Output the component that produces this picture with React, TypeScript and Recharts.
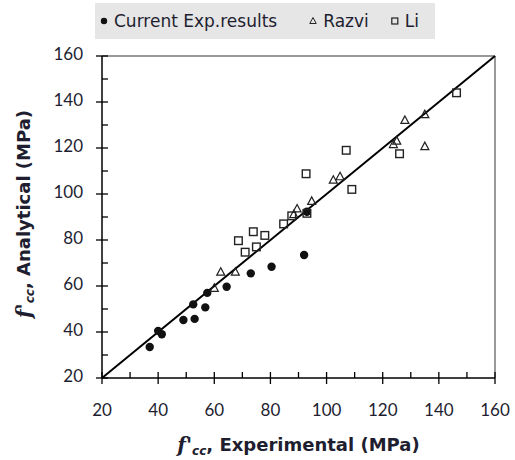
import React from 'react';
import { ScatterChart, Scatter, XAxis, YAxis, ReferenceLine, Legend } from 'recharts';

const currentExp: number[][] = [
  [37, 33.5], [40, 40.5], [41.3, 39], [49, 45.2], [53, 45.7], [52.5, 52],
  [56.8, 50.7], [57.5, 57], [64.4, 59.7], [73, 65.5], [80.4, 68.4], [92, 73.5], [93, 92.3],
];
const razvi: number[][] = [
  [60, 59], [62.3, 66], [67.5, 66], [88.3, 91], [89.5, 93.5], [94.7, 96.8],
  [102.4, 106], [104.8, 107.5], [123.8, 121.5], [125, 123], [127.9, 132], [135, 134.5], [135, 120.6],
];
const li: number[][] = [
  [68.6, 79.7], [73.9, 83.6], [71, 74.7], [75, 77], [78, 82], [84.7, 87], [87.6, 90.5],
  [93, 91.6], [92.7, 108.8], [107, 119], [109, 102], [126, 117.5], [146.3, 144],
];
const axisTicks = [20, 30, 40, 50, 60, 70, 80, 90, 100, 110, 120, 130, 140, 150, 160];
const legendLabels = ['Current Exp.results', 'Razvi', 'Li'];

const toObj = (arr: number[][]) => arr.map(([x, y]) => ({ x, y }));

const FONT = 'Lato, "Open Sans", sans-serif';
const TFONT = '"DejaVu Sans", sans-serif';
const TXT = '#1e1e30';

const XTick = (props: any) => {
  const { x, y, payload } = props;
  const major = payload.value % 20 === 0;
  return (
    <g>
      <line x1={x} x2={x} y1={y - 6} y2={major ? y + 6 : y} stroke="#000" strokeWidth={1.3} />
      {major && (
        <text x={x} y={y + 34} textAnchor="middle" dominantBaseline="middle" fontFamily={FONT} fontSize={17} fill={TXT}>
          {payload.value}
        </text>
      )}
    </g>
  );
};

const YTick = (props: any) => {
  const { x, y, payload } = props;
  const major = payload.value % 20 === 0;
  return (
    <g>
      <line x1={major ? x - 6 : x} x2={x + 6} y1={y} y2={y} stroke="#000" strokeWidth={1.3} />
      {major && (
        <text x={x - 19} y={y} textAnchor="end" dominantBaseline="middle" fontFamily={FONT} fontSize={17} fill={TXT}>
          {payload.value}
        </text>
      )}
    </g>
  );
};

const XTitle = (props: any) => {
  const vb = props.viewBox || {};
  const cx = vb.x + vb.width / 2;
  return (
    <text x={cx} y={446} textAnchor="middle" dominantBaseline="middle" fontFamily={TFONT} fontSize={18} fontWeight="bold" fill={TXT}>
      <tspan fontStyle="italic" fontFamily="'DejaVu Serif', serif" fontSize={20}>f'</tspan>
      <tspan fontStyle="italic" fontSize={12} dy={5}>cc</tspan>
      <tspan dy={-5}>, Experimental (MPa)</tspan>
    </text>
  );
};

const YTitle = () => {
  const cy = 214;
  const cx = 25;
  return (
    <text x={cx} y={cy} transform={`rotate(-90 ${cx} ${cy})`} textAnchor="middle" dominantBaseline="middle" fontFamily={TFONT} fontSize={18} fontWeight="bold" fill={TXT}>
      <tspan fontStyle="italic" fontFamily="'DejaVu Serif', serif" fontSize={20}>f'</tspan>
      <tspan fontStyle="italic" fontSize={12} dy={5}>cc</tspan>
      <tspan dy={-5}>, Analytical (MPa)</tspan>
    </text>
  );
};

const CircleShape = (p: any) => <circle cx={p.cx} cy={p.cy} r={4.2} fill="#111" />;
const TriShape = (p: any) => (
  <polygon
    points={`${p.cx},${p.cy - 4.5} ${p.cx - 4},${p.cy + 3} ${p.cx + 4},${p.cy + 3}`}
    fill="none" stroke="#222" strokeWidth={1.2}
  />
);
const SquareShape = (p: any) => (
  <rect x={p.cx - 3.8} y={p.cy - 3.8} width={7.6} height={7.6} fill="none" stroke="#222" strokeWidth={1.4} />
);

const LegendBox = () => {
  const item = (marker: React.ReactNode, label: string, gap: number) => (
    <div style={{ display: 'flex', alignItems: 'center', marginRight: gap }}>
      <svg width={12} height={12} style={{ marginRight: 4 }}>{marker}</svg>
      <span style={{ fontFamily: TFONT, fontSize: 17, color: TXT }}>{label}</span>
    </div>
  );
  return (
    <div style={{ width: 340, height: 36, background: '#e6e6e6', display: 'flex', alignItems: 'center', paddingLeft: 3, boxSizing: 'border-box' }}>
      {item(<circle cx={6} cy={6} r={3.2} fill="#111" />, legendLabels[0], 30)}
      {item(<polygon points="6,2.5 2.8,8.5 9.2,8.5" fill="none" stroke="#222" strokeWidth={1} />, legendLabels[1], 20)}
      {item(<rect x={2.8} y={3} width={6} height={6} fill="none" stroke="#222" strokeWidth={1.2} />, legendLabels[2], 0)}
    </div>
  );
};

export default function App() {
  return (
    <div style={{ position: 'absolute', left: 0, top: 0, width: 515, height: 460, background: '#fff' }}>
      <ScatterChart width={515} height={460} margin={{ top: 20, right: 20, bottom: 0, left: 0 }}>
        <XAxis
          type="number" dataKey="x" domain={[20, 160]} ticks={axisTicks} interval={0}
          tickSize={0} tickMargin={0} tick={<XTick />} height={82}
          axisLine={{ stroke: '#000', strokeWidth: 1.5 }} tickLine={false}
          label={<XTitle />}
        />
        <YAxis
          type="number" dataKey="y" domain={[20, 160]} ticks={axisTicks} interval={0}
          tickSize={0} tickMargin={0} tick={<YTick />} width={102}
          axisLine={{ stroke: '#000', strokeWidth: 1.5 }} tickLine={false}
          label={<YTitle />}
        />
        <ReferenceLine y={160} stroke="#999" strokeWidth={2} />
        <ReferenceLine x={160} stroke="#999" strokeWidth={2} />
        <ReferenceLine segment={[{ x: 20, y: 20 }, { x: 160, y: 160 }]} stroke="#000" strokeWidth={2} />
        <Legend verticalAlign="top" content={<LegendBox />} wrapperStyle={{ position: 'absolute', top: 3, left: 95, width: 340, height: 36 }} />
        <Scatter name={legendLabels[0]} data={toObj(currentExp)} shape={<CircleShape />} isAnimationActive={false} />
        <Scatter name={legendLabels[1]} data={toObj(razvi)} shape={<TriShape />} isAnimationActive={false} />
        <Scatter name={legendLabels[2]} data={toObj(li)} shape={<SquareShape />} isAnimationActive={false} />
      </ScatterChart>
    </div>
  );
}
